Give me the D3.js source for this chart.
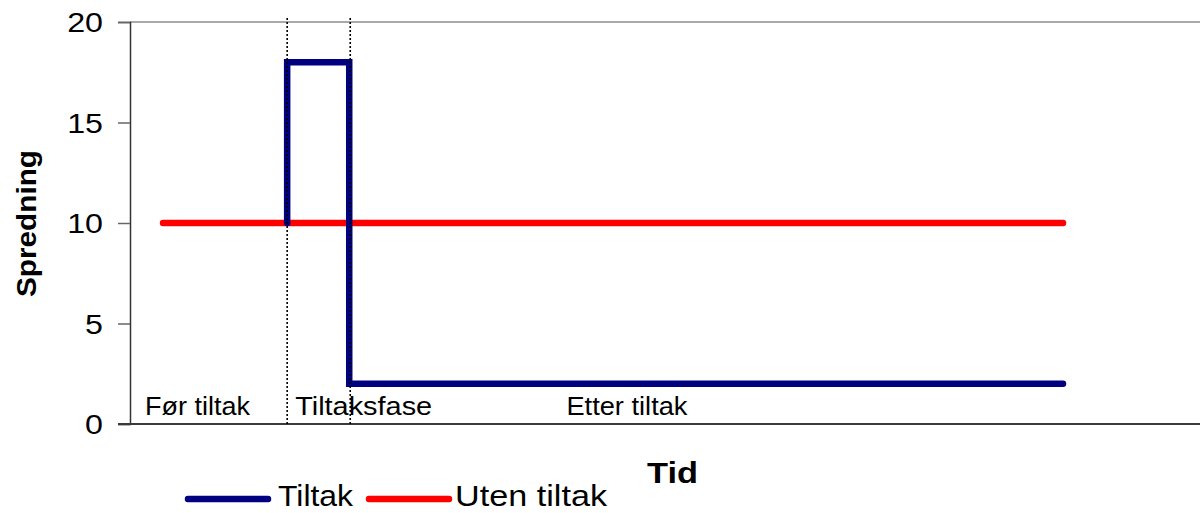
<!DOCTYPE html>
<html>
<head>
<meta charset="utf-8">
<script src="https://cdn.jsdelivr.net/npm/d3@7"></script>
<style>
  html, body { margin: 0; padding: 0; background: #fff; }
  svg { display: block; font-family: "Liberation Sans", Arial, sans-serif; }
</style>
</head>
<body>
<svg id="chart" width="1200" height="513"></svg>
<script>
// ---- data ----
const yTicks = [0, 5, 10, 15, 20];
const tiltakTime = [5, 5, 7, 7, 30];
const tiltakValues = [10, 18, 18, 2, 2];
const utenTime = [1, 30];
const utenValues = [10, 10];
const phaseBoundaries = [5, 7];
const phaseLabels = ["Før tiltak", "Tiltaksfase", "Etter tiltak"];
const phaseLabelTime = [0, 5, 14];
const seriesNames = ["Tiltak", "Uten tiltak"];
const seriesColors = ["#000080", "#ff0000"];
const yTitle = "Spredning";
const xTitle = "Tid";

// ---- layout ----
const svg = d3.select("#chart");
const x = d3.scaleLinear().domain([0, 30]).range([132, 1063]);
const y = d3.scaleLinear().domain([0, 20]).range([424, 22]);
const plotRight = 1200;

function stretch(sel, width) {
  sel.attr("textLength", width).attr("lengthAdjust", "spacingAndGlyphs");
}

// top border / gridline at max
svg.append("line")
  .attr("x1", 130).attr("x2", plotRight)
  .attr("y1", y(20)).attr("y2", y(20))
  .attr("stroke", "#8c8c8c").attr("stroke-width", 1.5);

// y axis
const yAxis = svg.append("g")
  .attr("transform", "translate(130,0)")
  .call(d3.axisLeft(y).tickValues(yTicks).tickSize(12).tickPadding(15).tickFormat(d3.format("d")));
yAxis.select(".domain").attr("stroke", "#333").attr("stroke-width", 1.5);
yAxis.selectAll(".tick line").attr("stroke", "#666").attr("stroke-width", 1.5);
yAxis.selectAll(".tick text")
  .attr("font-size", 28).attr("fill", "#000")
  .attr("font-family", "Liberation Sans, Arial, sans-serif")
  .attr("dy", "0.35em")
  .each(function () {
    const w = this.getComputedTextLength();
    d3.select(this).attr("textLength", w * 1.15).attr("lengthAdjust", "spacingAndGlyphs");
  });

// x axis line
svg.append("line")
  .attr("x1", 118).attr("x2", plotRight)
  .attr("y1", y(0)).attr("y2", y(0))
  .attr("stroke", "#3a3a3a").attr("stroke-width", 2);

// series
const line = d3.line().x(d => x(d[0])).y(d => y(d[1]));
const utenData = utenTime.map((t, i) => [t, utenValues[i]]);
const tiltakData = tiltakTime.map((t, i) => [t, tiltakValues[i]]);

svg.append("path").datum(utenData)
  .attr("d", line).attr("fill", "none")
  .attr("stroke", seriesColors[1]).attr("stroke-width", 6.5)
  .attr("stroke-linecap", "round").attr("stroke-linejoin", "miter");

svg.append("path").datum(tiltakData)
  .attr("d", line).attr("fill", "none")
  .attr("stroke", seriesColors[0]).attr("stroke-width", 6.5)
  .attr("stroke-linecap", "round").attr("stroke-linejoin", "miter");

// phase boundary dotted lines
svg.selectAll(".phase").data(phaseBoundaries).enter().append("line")
  .attr("x1", d => x(d) + (d === 7 ? 1 : 0)).attr("x2", d => x(d) + (d === 7 ? 1 : 0))
  .attr("y1", 18).attr("y2", y(0))
  .attr("stroke", "#000").attr("stroke-width", 1.6)
  .attr("stroke-dasharray", "2,2");

// phase labels
const labelOffsets = [13, 8, 0];
const labelWidths = [105, 137, 121];
phaseLabels.forEach((lab, i) => {
  svg.append("text")
    .attr("x", x(phaseLabelTime[i]) + labelOffsets[i])
    .attr("y", 415)
    .attr("font-size", 25)
    .attr("fill", "#000")
    .text(lab)
    .call(stretch, labelWidths[i]);
});

// axis titles
svg.append("text")
  .attr("transform", "translate(36,223.5) rotate(-90)")
  .attr("text-anchor", "middle")
  .attr("font-size", 28).attr("font-weight", "bold")
  .text(yTitle)
  .call(stretch, 147);

svg.append("text")
  .attr("x", 647).attr("y", 483)
  .attr("font-size", 29).attr("font-weight", "bold")
  .text(xTitle)
  .call(stretch, 51);

// legend
const legendX = [188, 369];
const legendTextX = [278, 455];
const legendTextW = [75, 152];
seriesNames.forEach((name, i) => {
  svg.append("line")
    .attr("x1", legendX[i]).attr("x2", legendX[i] + 80)
    .attr("y1", 499).attr("y2", 499)
    .attr("stroke", seriesColors[i]).attr("stroke-width", 6.5)
    .attr("stroke-linecap", "round");
  svg.append("text")
    .attr("x", legendTextX[i]).attr("y", 506)
    .attr("font-size", 29)
    .attr("fill", "#000")
    .text(name)
    .call(stretch, legendTextW[i]);
});
</script>
</body>
</html>
